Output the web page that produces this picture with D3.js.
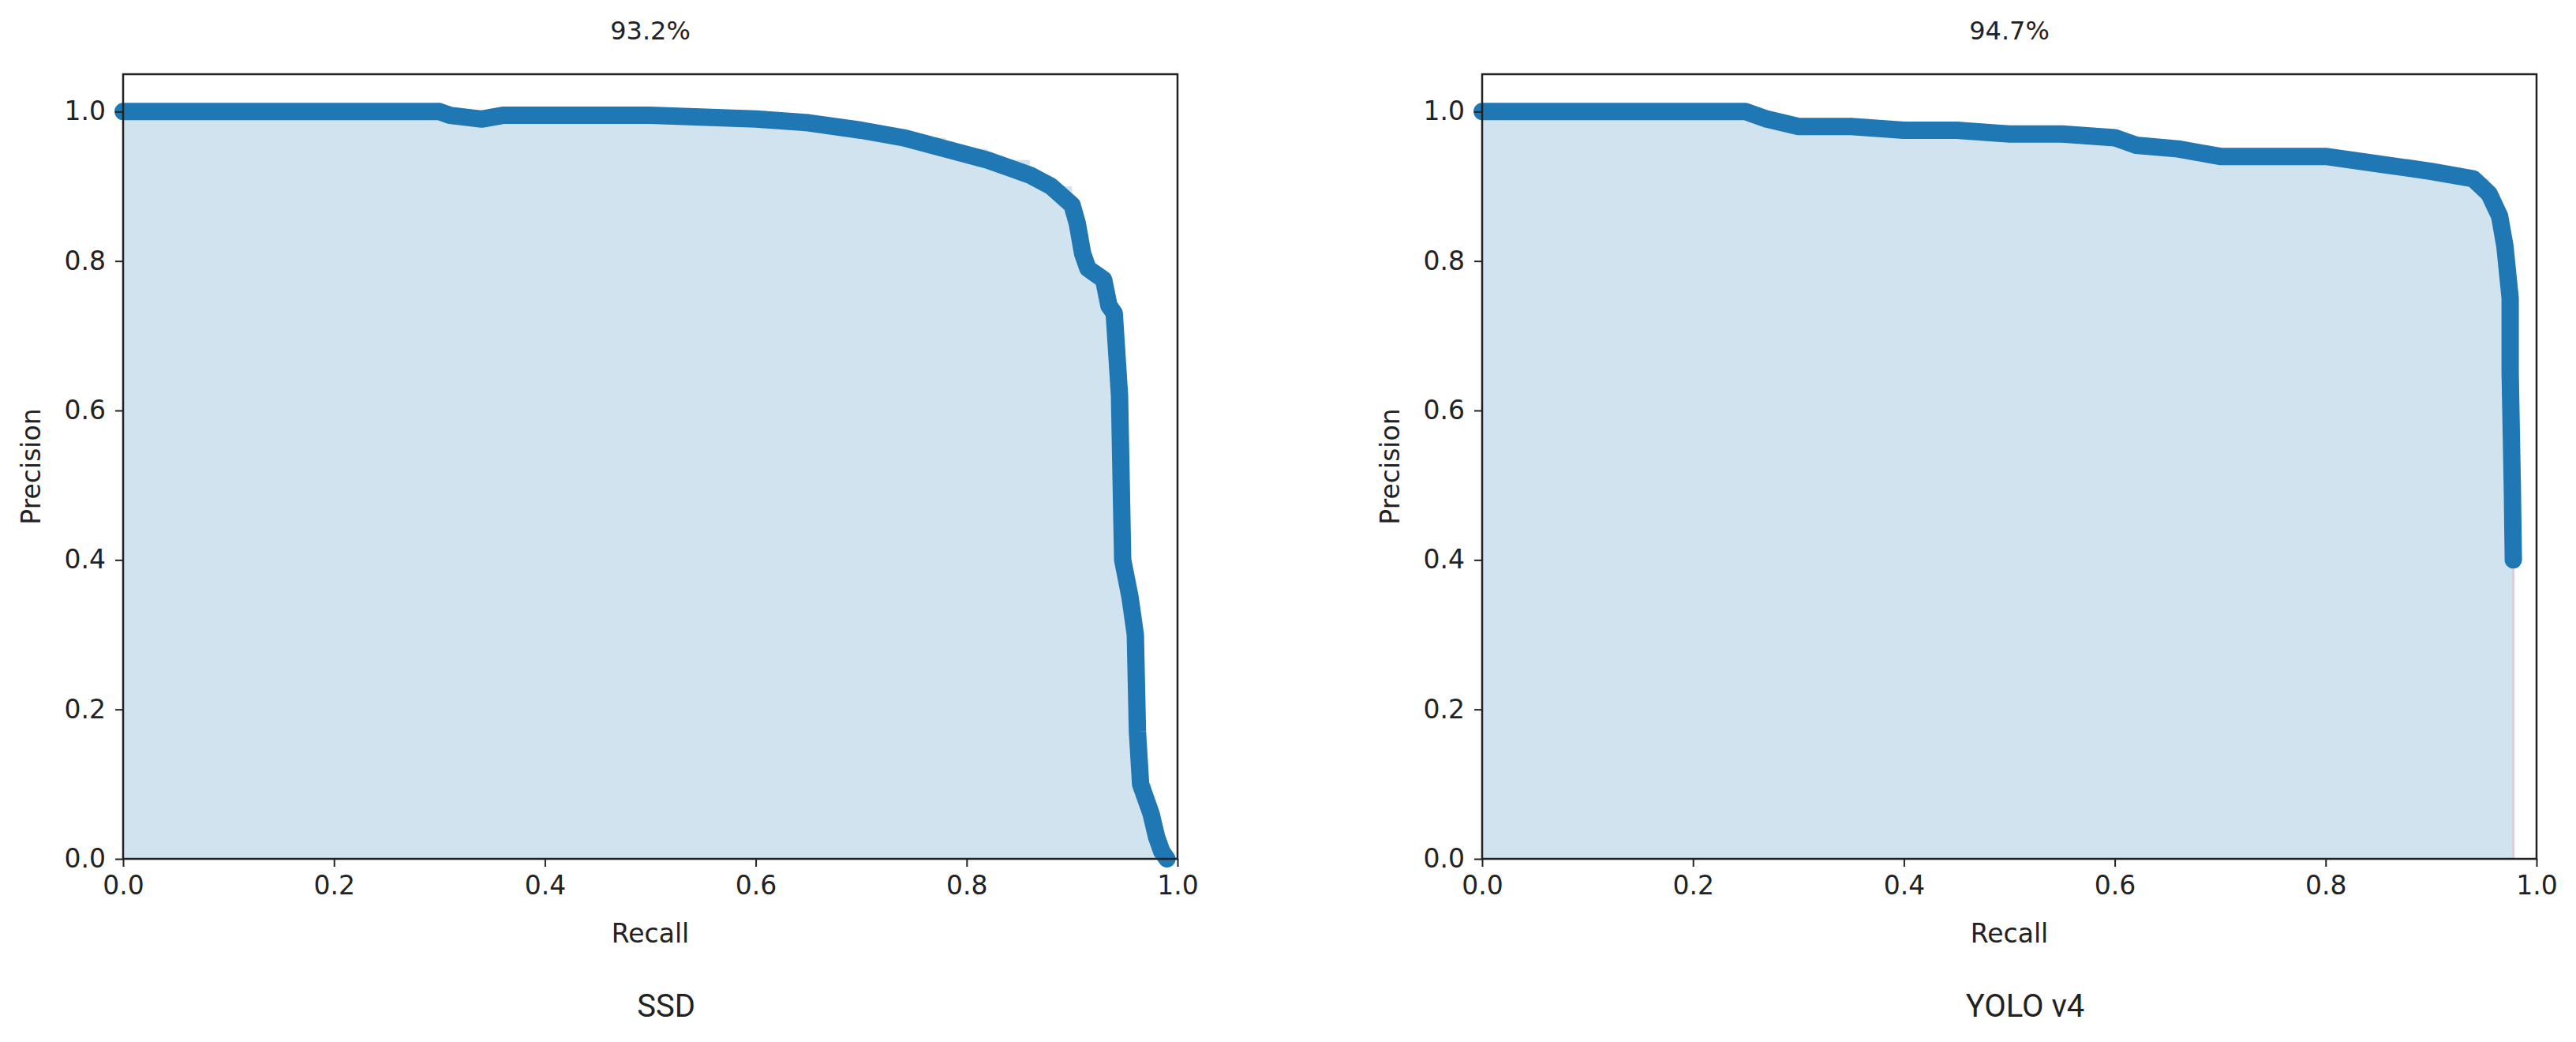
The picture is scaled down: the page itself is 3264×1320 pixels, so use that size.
<!DOCTYPE html>
<html lang="en">
<head>
<meta charset="UTF-8">
<title>PR curves</title>
<script src="https://cdn.jsdelivr.net/npm/d3@7"></script>
<style>
  body { margin: 0; background: #fff; }
  text { font-family: "DejaVu Sans", sans-serif; fill: #222; }
</style>
</head>
<body>
<svg id="chart" width="3264" height="1320"></svg>
<script>
// data
const ssdRecall    = [0, 0.30, 0.31, 0.34, 0.36, 0.50, 0.60, 0.65, 0.70, 0.74, 0.78, 0.82, 0.86, 0.88, 0.90, 0.905, 0.91, 0.915, 0.93, 0.935, 0.94, 0.945, 0.948, 0.955, 0.96, 0.962, 0.965, 0.975, 0.98, 0.985, 0.99];
const ssdPrecision = [1.0, 1.0, 0.995, 0.99, 0.995, 0.995, 0.99, 0.985, 0.975, 0.965, 0.95, 0.935, 0.915, 0.90, 0.875, 0.85, 0.81, 0.79, 0.775, 0.74, 0.73, 0.62, 0.40, 0.35, 0.30, 0.17, 0.10, 0.06, 0.03, 0.01, 0.0];
const yoloRecall    = [0, 0.25, 0.27, 0.30, 0.35, 0.40, 0.45, 0.50, 0.55, 0.60, 0.62, 0.66, 0.70, 0.75, 0.80, 0.85, 0.90, 0.94, 0.955, 0.965, 0.970, 0.975, 0.975, 0.977, 0.978];
const yoloPrecision = [1.0, 1.0, 0.99, 0.98, 0.98, 0.975, 0.975, 0.97, 0.97, 0.965, 0.955, 0.95, 0.94, 0.94, 0.94, 0.93, 0.92, 0.91, 0.89, 0.86, 0.82, 0.75, 0.65, 0.50, 0.40];
const titles = ["93.2%", "94.7%"];
const models = ["SSD", "YOLO v4"];
const ticks = [0, 0.2, 0.4, 0.6, 0.8, 1.0];

const svg = d3.select('#chart');
const panels = [
  { left: 156, recall: ssdRecall, precision: ssdPrecision },
  { left: 1878, recall: yoloRecall, precision: yoloPrecision }
];
const plotW = 1336, plotTop = 94, plotBottom = 1088;

panels.forEach((p, i) => {
  const x = d3.scaleLinear().domain([0, 1]).range([p.left, p.left + plotW]);
  const y = d3.scaleLinear().domain([0, 1.05]).range([plotBottom, plotTop]);
  const pts = p.recall.map((r, k) => [r, p.precision[k]]);
  const g = svg.append('g');

  // shaded area under the curve
  g.append('path')
    .datum(pts)
    .attr('fill', '#d2e3f0')
    .attr('d', d3.area().x(d => x(d[0])).y0(y(0)).y1(d => y(d[1])).curve(d3.curveStepAfter));

  // YOLO: thin edge below last point
  if (i === 1) {
    const last = pts[pts.length - 1];
    g.append('line')
      .attr('x1', x(last[0])).attr('x2', x(last[0]))
      .attr('y1', y(last[1])).attr('y2', y(0))
      .attr('stroke', '#e8c8d8').attr('stroke-width', 3);
  }

  g.append('path')
    .datum(pts)
    .attr('fill', 'none')
    .attr('stroke', '#1f77b4')
    .attr('stroke-width', 22)
    .attr('stroke-linecap', 'round')
    .attr('stroke-linejoin', 'round')
    .attr('d', d3.line().x(d => x(d[0])).y(d => y(d[1])));

  // axes
  g.append('g').attr('transform', `translate(0,${plotBottom})`)
    .call(d3.axisBottom(x).tickValues(ticks).tickFormat(d3.format('.1f')).tickSize(10).tickPadding(12))
    .call(a => a.selectAll('text').style('font-size', '33px'))
    .call(a => a.select('.domain').remove());
  g.append('g').attr('transform', `translate(${p.left},0)`)
    .call(d3.axisLeft(y).tickValues(ticks).tickFormat(d3.format('.1f')).tickSize(10).tickPadding(12))
    .call(a => a.selectAll('text').style('font-size', '33px'))
    .call(a => a.select('.domain').remove());
  g.selectAll('.tick line').attr('stroke', '#222').attr('stroke-width', 2);

  // frame
  g.append('rect')
    .attr('x', p.left).attr('y', plotTop).attr('width', plotW).attr('height', plotBottom - plotTop)
    .attr('fill', 'none').attr('stroke', '#222').attr('stroke-width', 2.5);

  const cx = p.left + plotW / 2;
  g.append('text').attr('x', cx).attr('y', 50).attr('text-anchor', 'middle')
    .style('font-size', '32px').text(titles[i]);
  g.append('text').attr('x', cx).attr('y', 1194).attr('text-anchor', 'middle')
    .style('font-size', '33px').text('Recall');
  g.append('text').attr('transform', `translate(${p.left - 105},${(plotTop + plotBottom) / 2}) rotate(-90)`)
    .attr('text-anchor', 'middle').style('font-size', '33px').text('Precision');
  g.append('text').attr('x', cx + 20).attr('y', 1288).attr('text-anchor', 'middle')
    .style('font-size', '40px').style('font-family', 'Roboto, sans-serif').text(models[i]);
});
</script>
</body>
</html>
